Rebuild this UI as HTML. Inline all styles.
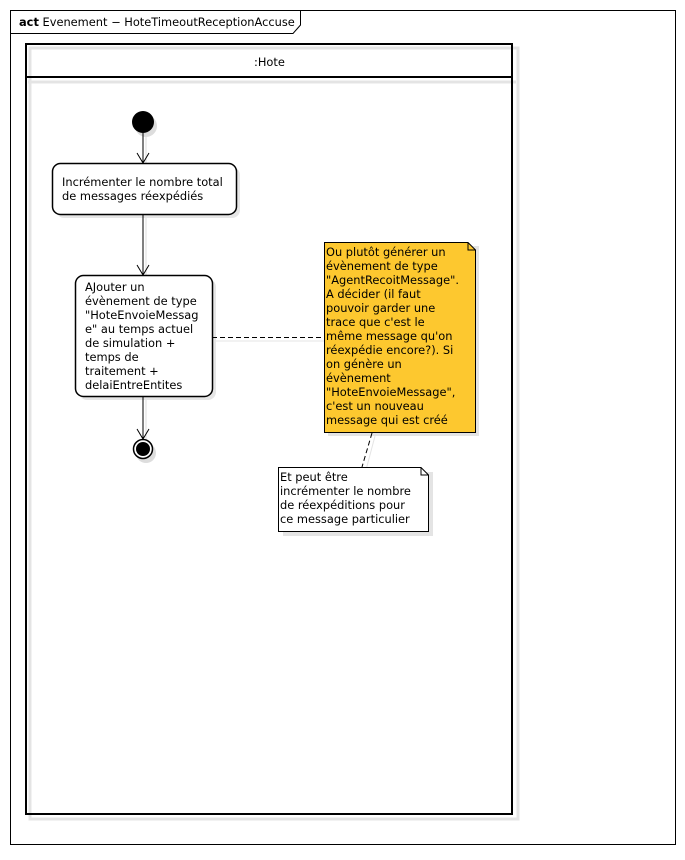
<!DOCTYPE html>
<html><head><meta charset="utf-8"><style>
html,body{margin:0;padding:0;background:#fff;}
svg text{font-family:"DejaVu Sans","Liberation Sans",sans-serif;font-size:11.4px;fill:#000;}
</style></head><body>
<svg width="685" height="855" xmlns="http://www.w3.org/2000/svg">
<rect x="10.5" y="10.5" width="665" height="834" fill="#fff" stroke="#000" stroke-width="1"/>
<path d="M10.5 33.5 H293 L300.5 25 V10.5" fill="none" stroke="#000"/>
<text x="19" y="26"><tspan font-weight="bold">act</tspan> Evenement − HoteTimeoutReceptionAccuse</text>
<rect x="30" y="48" width="488" height="771" fill="none" stroke="#e4e4e4" stroke-width="3"/>
<line x1="28" y1="82" x2="516" y2="82" stroke="#e4e4e4" stroke-width="3"/>
<rect x="26" y="44" width="486" height="770" fill="none" stroke="#000" stroke-width="2"/>
<line x1="26" y1="77" x2="512" y2="77" stroke="#000" stroke-width="2"/>
<text x="254" y="66">:Hote</text>
<circle cx="146" cy="126" r="11" fill="#ddd"/>
<circle cx="143" cy="122" r="11" fill="#000"/>
<line x1="146" y1="136" x2="146" y2="166" stroke="#ddd"/>
<line x1="143" y1="133" x2="143" y2="163" stroke="#000"/>
<path d="M137 153 L143 163 L149 153" fill="none" stroke="#000"/>
<rect x="56" y="167" width="184" height="51" rx="8" fill="#e6e6e6"/>
<rect x="52.5" y="163.5" width="184" height="51" rx="8" fill="#fff" stroke="#000" stroke-width="1.5"/>
<text x="62" y="186">Incrémenter le nombre total</text>
<text x="62" y="200">de messages réexpédiés</text>
<line x1="146" y1="218" x2="146" y2="278" stroke="#ddd"/>
<line x1="143" y1="215" x2="143" y2="275" stroke="#000"/>
<path d="M137 265 L143 275 L149 265" fill="none" stroke="#000"/>
<rect x="79" y="279" width="137" height="121" rx="8" fill="#e6e6e6"/>
<rect x="75.5" y="275.5" width="137" height="121" rx="8" fill="#fff" stroke="#000" stroke-width="1.5"/>
<text x="85" y="291">AJouter un</text>
<text x="85" y="305">évènement de type</text>
<text x="85" y="319">"HoteEnvoieMessag</text>
<text x="85" y="333">e" au temps actuel</text>
<text x="85" y="347">de simulation +</text>
<text x="85" y="361">temps de</text>
<text x="85" y="375">traitement +</text>
<text x="85" y="389">delaiEntreEntites</text>
<line x1="146" y1="400" x2="146" y2="442" stroke="#ddd"/>
<line x1="143" y1="397" x2="143" y2="439" stroke="#000"/>
<path d="M137 429 L143 439 L149 429" fill="none" stroke="#000"/>
<circle cx="146" cy="453" r="10" fill="#ddd"/>
<circle cx="143" cy="449" r="9.5" fill="#fff" stroke="#000" stroke-width="1.5"/>
<circle cx="143" cy="449" r="7" fill="#000"/>
<line x1="215" y1="341" x2="327" y2="341" stroke="#e4e4e4" stroke-width="1"/>
<line x1="212" y1="337.5" x2="324" y2="337.5" stroke="#000" stroke-dasharray="5,3"/>
<rect x="328" y="246" width="151" height="190" fill="#e4e4e4"/>
<path d="M324.5 242.5 H468 L475.5 250 V432.5 H324.5 Z" fill="#fdc82f" stroke="#000"/>
<path d="M468 242.5 V250 H475.5" fill="none" stroke="#000"/>
<text x="326" y="256">Ou plutôt générer un</text>
<text x="326" y="270">évènement de type</text>
<text x="326" y="284">"AgentRecoitMessage".</text>
<text x="326" y="298">A décider (il faut</text>
<text x="326" y="312">pouvoir garder une</text>
<text x="326" y="326">trace que c'est le</text>
<text x="326" y="340">même message qu'on</text>
<text x="326" y="354">réexpédie encore?). Si</text>
<text x="326" y="368">on génère un</text>
<text x="326" y="382">évènement</text>
<text x="326" y="396">"HoteEnvoieMessage",</text>
<text x="326" y="410">c'est un nouveau</text>
<text x="326" y="424">message qui est créé</text>
<line x1="375" y1="436" x2="366" y2="470" stroke="#e4e4e4"/>
<line x1="372" y1="433" x2="362" y2="467" stroke="#000" stroke-dasharray="5,3"/>
<rect x="283" y="472" width="150" height="64" fill="#e4e4e4"/>
<path d="M278.5 467.5 H421 L428.5 475 V531.5 H278.5 Z" fill="#fff" stroke="#000"/>
<path d="M421 467.5 V475 H428.5" fill="none" stroke="#000"/>
<text x="280" y="481">Et peut être</text>
<text x="280" y="495">incrémenter le nombre</text>
<text x="280" y="509">de réexpéditions pour</text>
<text x="280" y="523">ce message particulier</text>
</svg>
</body></html>
